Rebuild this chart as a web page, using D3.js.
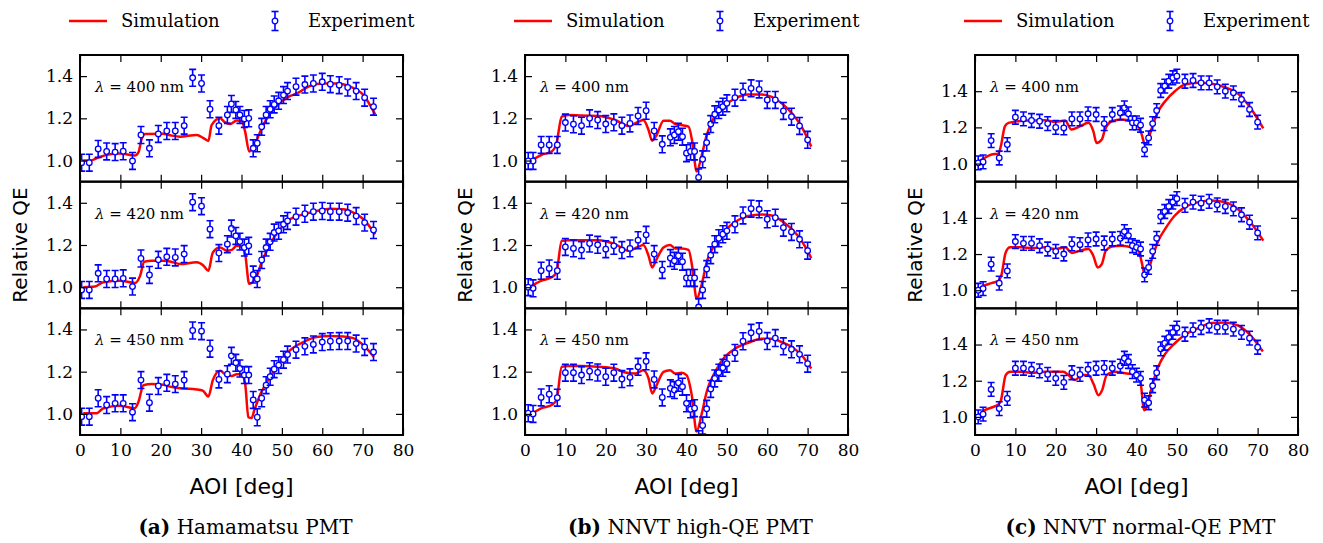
<!DOCTYPE html>
<html>
<head>
<meta charset="utf-8">
<script src="https://cdn.jsdelivr.net/npm/d3@7"></script>
<style>
  body { margin: 0; background: #fff; }
  text { fill: #000; }
</style>
</head>
<body>
<svg width="1323" height="543"></svg>
<script>
// ---- data ----
var wavelengths = [400, 420, 450];
var xTicks = [0, 10, 20, 30, 40, 50, 60, 70, 80];
var yTicks = [1.0, 1.2, 1.4];
var captions = [["(a)", " Hamamatsu PMT"], ["(b)", " NNVT high-QE PMT"], ["(c)", " NNVT normal-QE PMT"]];
var yDomains = [[0.9, 1.5], [0.9, 1.5], [0.9, 1.6]];
var expErr = [0.04, 0.04, 0.038];

// (a) Hamamatsu
var expXA = [0.4, 2.3, 4.5, 6.6, 8.7, 10.7, 13.0, 15.1, 17.2, 19.4, 21.5, 23.6, 25.8, 27.9, 30.1, 32.2, 34.4, 36.5, 37.5, 38.6, 39.6, 40.7, 41.8, 42.9, 43.9, 45.0, 46.1, 47.1, 48.1, 49.2, 50.4, 51.4, 53.5, 55.7, 57.8, 60.0, 62.0, 64.2, 66.3, 68.4, 70.5, 72.7];
var expA400 = [0.99, 0.99, 1.055, 1.043, 1.04, 1.044, 0.998, 1.121, 1.058, 1.126, 1.14, 1.14, 1.165, 1.392, 1.365, 1.243, 1.165, 1.216, 1.268, 1.24, 1.216, 1.197, 1.2, 1.058, 1.082, 1.16, 1.216, 1.243, 1.266, 1.283, 1.31, 1.329, 1.35, 1.36, 1.365, 1.373, 1.362, 1.357, 1.346, 1.329, 1.298, 1.255];
var expA420 = [0.987, 0.987, 1.066, 1.039, 1.039, 1.042, 1.003, 1.136, 1.058, 1.13, 1.144, 1.141, 1.157, 1.403, 1.384, 1.275, 1.162, 1.204, 1.278, 1.243, 1.216, 1.188, 1.196, 1.06, 1.039, 1.129, 1.188, 1.215, 1.259, 1.267, 1.298, 1.314, 1.334, 1.348, 1.358, 1.361, 1.358, 1.358, 1.353, 1.337, 1.306, 1.271];
var expA450 = [0.987, 0.987, 1.074, 1.042, 1.05, 1.05, 1.008, 1.16, 1.053, 1.132, 1.147, 1.141, 1.16, 1.395, 1.392, 1.309, 1.163, 1.188, 1.275, 1.242, 1.215, 1.184, 1.184, 1.066, 0.984, 1.074, 1.136, 1.176, 1.212, 1.231, 1.257, 1.281, 1.304, 1.32, 1.329, 1.34, 1.344, 1.345, 1.345, 1.333, 1.317, 1.293];
var simA400 = [[0.8,1.0],[2.5,1.0],[4.5,1.014],[6.6,1.027],[9.9,1.033],[13.6,1.024],[14.5,1.04],[15.3,1.105],[16.1,1.126],[20.6,1.127],[22.3,1.12],[24.8,1.113],[28.9,1.121],[30.6,1.106],[31.8,1.093],[32.6,1.168],[34.7,1.2],[35.7,1.184],[37.2,1.173],[38.8,1.19],[40.0,1.187],[40.9,1.137],[41.9,1.043],[42.5,1.05],[43.4,1.074],[44.2,1.117],[45.4,1.168],[47.1,1.224],[49.1,1.266],[51.6,1.302],[53.7,1.318],[57.0,1.354],[60.3,1.365],[63.6,1.365],[66.9,1.35],[70.2,1.31],[73.1,1.219]];
var simA420 = [[0.8,1.0],[3.7,1.003],[5.8,1.024],[9.9,1.031],[13.6,1.02],[14.9,1.055],[15.9,1.121],[17.8,1.125],[20.6,1.125],[22.3,1.122],[24.8,1.11],[28.9,1.118],[30.6,1.102],[31.8,1.078],[32.9,1.165],[34.7,1.188],[36.3,1.173],[37.6,1.177],[38.8,1.196],[40.0,1.193],[40.9,1.157],[41.9,1.016],[42.5,1.02],[43.8,1.055],[45.0,1.118],[47.1,1.204],[49.5,1.275],[52.0,1.322],[55.3,1.345],[58.6,1.361],[61.9,1.372],[65.2,1.369],[67.7,1.353],[70.2,1.322],[73.1,1.251]];
var simA450 = [[0.8,1.003],[4.1,1.003],[5.8,1.027],[9.9,1.039],[13.6,1.027],[14.5,1.058],[15.7,1.136],[17.8,1.141],[20.6,1.138],[22.3,1.129],[24.8,1.121],[28.9,1.116],[30.4,1.11],[31.8,1.082],[32.9,1.16],[34.7,1.204],[35.9,1.188],[37.6,1.179],[38.8,1.188],[40.0,1.188],[40.9,1.144],[41.7,0.984],[42.5,0.98],[43.2,1.019],[44.6,1.089],[47.1,1.176],[49.5,1.246],[52.0,1.301],[55.3,1.34],[58.6,1.364],[61.9,1.369],[65.2,1.367],[67.7,1.359],[70.2,1.325],[72.8,1.27]];

// (b) NNVT high-QE
var expXB = [0.8, 2, 4, 6, 8, 10, 12, 14, 16, 18, 20, 22, 24, 26, 28, 30, 32, 34, 36, 37, 38, 39, 40, 41, 42, 43, 44, 45, 46, 47, 48, 49, 50, 52, 54, 56, 58, 60, 62, 64, 66, 68, 70];
var expB400 = [0.998, 0.998, 1.074, 1.074, 1.074, 1.18, 1.172, 1.165, 1.2, 1.192, 1.173, 1.181, 1.165, 1.176, 1.211, 1.236, 1.14, 1.077, 1.11, 1.121, 1.137, 1.113, 1.035, 1.043, 1.043, 0.92, 1.006, 1.085, 1.173, 1.219, 1.239, 1.255, 1.271, 1.298, 1.326, 1.342, 1.337, 1.287, 1.287, 1.235, 1.208, 1.164, 1.098];
var expB420 = [1.0, 0.995, 1.078, 1.089, 1.078, 1.191, 1.184, 1.176, 1.207, 1.201, 1.18, 1.196, 1.176, 1.184, 1.223, 1.248, 1.157, 1.082, 1.138, 1.125, 1.149, 1.121, 1.044, 1.044, 1.044, 0.906, 0.987, 1.086, 1.152, 1.204, 1.232, 1.251, 1.267, 1.298, 1.34, 1.372, 1.369, 1.322, 1.329, 1.282, 1.262, 1.227, 1.173];
var expB450 = [1.003, 1.0, 1.078, 1.093, 1.077, 1.195, 1.195, 1.184, 1.202, 1.196, 1.176, 1.195, 1.165, 1.173, 1.223, 1.249, 1.163, 1.078, 1.121, 1.113, 1.147, 1.129, 1.05, 1.022, 1.027, 0.88, 0.945, 1.024, 1.118, 1.168, 1.195, 1.218, 1.238, 1.289, 1.344, 1.384, 1.391, 1.345, 1.359, 1.32, 1.306, 1.282, 1.238];
var simB400 = [[0.4,0.995],[2.5,1.011],[4.1,1.027],[6.6,1.043],[7.8,1.082],[9.1,1.208],[10.7,1.216],[14.0,1.213],[18.2,1.211],[22.3,1.192],[25.6,1.164],[28.1,1.184],[29.3,1.192],[30.6,1.145],[31.5,1.094],[32.6,1.121],[34.3,1.189],[35.9,1.189],[37.2,1.173],[38.8,1.168],[40.5,1.161],[41.5,1.082],[42.5,0.948],[43.8,1.027],[45.0,1.121],[46.7,1.2],[49.1,1.255],[52.0,1.294],[55.3,1.313],[58.6,1.313],[61.1,1.302],[63.6,1.271],[66.1,1.224],[68.5,1.161],[70.9,1.066]];
var simB420 = [[0.4,0.992],[2.5,1.016],[4.1,1.031],[6.6,1.047],[7.8,1.071],[9.1,1.22],[10.7,1.223],[14.0,1.223],[18.2,1.223],[22.3,1.204],[25.6,1.173],[27.7,1.188],[29.3,1.2],[30.6,1.149],[31.5,1.094],[32.6,1.133],[34.3,1.188],[35.9,1.2],[37.2,1.184],[38.8,1.184],[40.5,1.177],[41.5,1.086],[42.5,0.945],[43.8,1.016],[45.0,1.118],[47.1,1.204],[49.5,1.267],[52.0,1.309],[55.3,1.337],[58.6,1.345],[61.1,1.34],[63.6,1.314],[66.1,1.275],[68.5,1.22],[70.9,1.138]];
var simB450 = [[0.4,0.995],[2.5,1.011],[4.1,1.027],[6.6,1.042],[7.8,1.066],[9.1,1.223],[10.7,1.227],[14.0,1.227],[18.2,1.223],[22.3,1.215],[24.8,1.196],[27.3,1.191],[29.3,1.207],[30.6,1.168],[31.5,1.097],[32.6,1.136],[34.3,1.199],[35.9,1.207],[37.2,1.191],[38.8,1.195],[40.0,1.184],[41.3,1.089],[42.5,0.917],[43.8,1.003],[45.0,1.105],[47.1,1.199],[49.5,1.27],[52.0,1.309],[55.3,1.337],[58.6,1.356],[61.1,1.356],[63.6,1.34],[66.1,1.317],[68.5,1.278],[70.9,1.215]];

// (c) NNVT normal-QE
var expXC = [0.8, 2, 4, 6, 8, 10, 12, 14, 16, 18, 20, 22, 24, 26, 28, 30, 32, 34, 36, 37, 38, 39, 40, 41, 42, 43, 44, 45, 46, 47, 48, 49, 50, 52, 54, 56, 58, 60, 62, 64, 66, 68, 70];
var expC400 = [1.004, 1.009, 1.127, 1.031, 1.105, 1.256, 1.247, 1.238, 1.234, 1.221, 1.2, 1.197, 1.247, 1.247, 1.275, 1.271, 1.221, 1.271, 1.28, 1.308, 1.275, 1.225, 1.225, 1.212, 1.077, 1.142, 1.221, 1.293, 1.404, 1.428, 1.455, 1.474, 1.483, 1.455, 1.459, 1.446, 1.446, 1.424, 1.4, 1.391, 1.354, 1.299, 1.229];
var expC420 = [1.0, 1.009, 1.144, 1.039, 1.107, 1.269, 1.259, 1.259, 1.246, 1.228, 1.215, 1.2, 1.256, 1.252, 1.278, 1.283, 1.261, 1.283, 1.287, 1.324, 1.302, 1.246, 1.237, 1.228, 1.085, 1.126, 1.215, 1.287, 1.407, 1.435, 1.463, 1.487, 1.506, 1.469, 1.487, 1.481, 1.491, 1.472, 1.463, 1.45, 1.417, 1.376, 1.317];
var expC450 = [1.0, 1.015, 1.152, 1.046, 1.102, 1.269, 1.269, 1.263, 1.254, 1.235, 1.213, 1.191, 1.244, 1.235, 1.263, 1.269, 1.272, 1.269, 1.281, 1.324, 1.306, 1.25, 1.231, 1.213, 1.093, 1.078, 1.172, 1.244, 1.376, 1.407, 1.439, 1.467, 1.491, 1.457, 1.481, 1.494, 1.504, 1.496, 1.496, 1.485, 1.467, 1.435, 1.385];
var simC400 = [[0.4,1.004],[2.1,1.028],[4.1,1.05],[5.8,1.055],[6.4,1.096],[7.4,1.206],[8.3,1.225],[10.7,1.234],[14.0,1.238],[17.3,1.24],[19.8,1.23],[22.3,1.238],[23.9,1.188],[26.0,1.206],[28.1,1.225],[29.3,1.179],[30.1,1.114],[31.4,1.133],[32.2,1.188],[33.9,1.234],[36.3,1.243],[38.8,1.234],[40.5,1.206],[41.3,1.16],[42.1,1.105],[42.9,1.133],[43.8,1.197],[45.4,1.289],[47.1,1.345],[49.5,1.4],[52.0,1.437],[55.3,1.446],[58.6,1.441],[61.9,1.422],[65.2,1.385],[68.5,1.299],[71.4,1.194]];
var simC420 = [[0.4,1.0],[2.1,1.024],[4.1,1.039],[5.8,1.052],[6.6,1.089],[7.6,1.209],[8.7,1.237],[11.6,1.237],[14.0,1.233],[17.3,1.237],[19.8,1.228],[22.3,1.237],[24.0,1.206],[26.0,1.219],[28.1,1.228],[29.3,1.191],[30.4,1.126],[31.4,1.144],[32.4,1.219],[33.9,1.241],[36.3,1.246],[38.8,1.237],[40.5,1.219],[41.3,1.154],[42.1,1.08],[42.9,1.107],[43.8,1.172],[45.4,1.274],[47.1,1.339],[49.5,1.413],[52.0,1.459],[55.3,1.487],[58.6,1.496],[61.9,1.487],[65.2,1.446],[68.5,1.367],[71.4,1.274]];
var simC450 = [[0.4,0.991],[2.1,1.033],[4.1,1.052],[5.8,1.069],[6.4,1.089],[7.6,1.231],[8.7,1.25],[11.6,1.25],[14.0,1.244],[17.3,1.25],[21.9,1.25],[23.1,1.231],[24.8,1.204],[26.4,1.231],[28.1,1.231],[29.3,1.185],[30.6,1.12],[31.5,1.148],[32.6,1.231],[34.7,1.25],[37.2,1.241],[39.6,1.235],[40.9,1.204],[41.9,1.037],[42.8,1.074],[43.8,1.167],[45.4,1.278],[47.1,1.348],[49.5,1.407],[52.0,1.454],[55.3,1.491],[58.6,1.519],[61.9,1.522],[65.2,1.504],[68.5,1.444],[71.3,1.361]];

// ---- layout ----
var svg = d3.select("svg"),
    width = +svg.attr("width"),
    height = +svg.attr("height");

svg.append("rect").attr("width", width).attr("height", height).attr("fill", "#fff");

var panelLeft = [80, 525, 975],
    plotW = 323,
    plotTop = 55,
    plotBottom = 435,
    subH = (plotBottom - plotTop) / 3;

var RED = "#ff0000", BLUE = "#0000ff";
var serif = "'DejaVu Serif', serif",
    sans = "'DejaVu Sans', sans-serif";

var panels = [
  { expX: expXA, exp: [expA400, expA420, expA450], sim: [simA400, simA420, simA450] },
  { expX: expXB, exp: [expB400, expB420, expB450], sim: [simB400, simB420, simB450] },
  { expX: expXC, exp: [expC400, expC420, expC450], sim: [simC400, simC420, simC450] }
];

var x = d3.scaleLinear().domain([0, 80]).range([0, plotW]);

function errorBar(g, cx, cy, yLo, yHi) {
  g.append("line").attr("x1", cx).attr("x2", cx).attr("y1", yLo).attr("y2", yHi)
      .attr("stroke", BLUE).attr("stroke-width", 1.6);
  [yLo, yHi].forEach(function(yy) {
    g.append("line").attr("x1", cx - 3.5).attr("x2", cx + 3.5).attr("y1", yy).attr("y2", yy)
        .attr("stroke", BLUE).attr("stroke-width", 1.6);
  });
  g.append("circle").attr("cx", cx).attr("cy", cy).attr("r", 2.8)
      .attr("fill", "#fff").attr("stroke", BLUE).attr("stroke-width", 1.3);
}

panels.forEach(function(p, pi) {
  var g = svg.append("g").attr("transform", "translate(" + panelLeft[pi] + ",0)");

  // legend
  var lg = g.append("g").attr("transform", "translate(0,21)");
  lg.append("line").attr("x1", -11).attr("x2", 27).attr("y1", 0).attr("y2", 0)
      .attr("stroke", RED).attr("stroke-width", 2.5);
  lg.append("text").attr("x", 41).attr("y", 6).style("font-family", serif).style("font-size", "18px")
      .text("Simulation");
  errorBar(lg, 195, 0, -9.5, 9.5);
  lg.append("text").attr("x", 228).attr("y", 6).style("font-family", serif).style("font-size", "18px")
      .text("Experiment");

  wavelengths.forEach(function(wl, r) {
    var top = plotTop + r * subH, bottom = top + subH;
    var y = d3.scaleLinear().domain(yDomains[pi]).range([bottom, top]);
    var clipId = "clip" + pi + "_" + r;

    g.append("clipPath").attr("id", clipId)
      .append("rect").attr("x", 0).attr("y", top).attr("width", plotW).attr("height", subH);

    var plot = g.append("g").attr("clip-path", "url(#" + clipId + ")");

    var line = d3.line()
        .x(function(d) { return x(d[0]); })
        .y(function(d) { return y(d[1]); })
        .curve(d3.curveMonotoneX);

    plot.append("path").datum(p.sim[r])
        .attr("d", line)
        .attr("fill", "none")
        .attr("stroke", RED)
        .attr("stroke-width", 2.5)
        .attr("stroke-linejoin", "round");

    p.exp[r].forEach(function(v, i) {
      var e = expErr[pi];
      errorBar(plot, x(p.expX[i]), y(v), y(v - e), y(v + e));
    });

    // axes, ticks pointing inward on all sides
    var ax = g.append("g").attr("class", "axes");
    ax.append("g").call(d3.axisLeft(y).tickValues(yTicks).tickSize(-7)
        .tickPadding(7).tickFormat(d3.format(".1f")));
    ax.append("g").attr("transform", "translate(" + plotW + ",0)")
        .call(d3.axisRight(y).tickValues(yTicks).tickSize(-7).tickFormat(""));
    ax.append("g").attr("transform", "translate(0," + top + ")")
        .call(d3.axisTop(x).tickValues(xTicks).tickSize(-7).tickFormat(""));
    ax.append("g").attr("transform", "translate(0," + bottom + ")")
        .call(d3.axisBottom(x).tickValues(xTicks).tickSize(-7).tickPadding(9)
          .tickFormat(r === 2 ? d3.format("d") : ""));

    ax.selectAll(".domain").remove();
    ax.selectAll(".tick line").attr("stroke", "#000").attr("stroke-width", 1.2);
    ax.selectAll(".tick text").style("font-family", serif).style("font-size", "17px").attr("fill", "#000");

    ax.append("rect").attr("x", 0).attr("y", top).attr("width", plotW).attr("height", subH)
        .attr("fill", "none").attr("stroke", "#000").attr("stroke-width", 2);

    // wavelength label
    var lt = g.append("text").attr("x", 15).attr("y", top + 37)
        .style("font-family", serif).style("font-size", "15px");
    lt.append("tspan").style("font-style", "italic").text("λ");
    lt.append("tspan").text(" = " + wl + " nm");
  });

  // axis titles
  g.append("text")
      .attr("transform", "translate(-53," + ((plotTop + plotBottom) / 2) + ") rotate(-90)")
      .attr("text-anchor", "middle")
      .style("font-family", sans).style("font-size", "20px")
      .text("Relative QE");

  g.append("text")
      .attr("x", plotW / 2).attr("y", 494)
      .attr("text-anchor", "middle")
      .style("font-family", sans).style("font-size", "22px")
      .text("AOI [deg]");

  var cap = g.append("text")
      .attr("x", plotW / 2 + 4).attr("y", 534)
      .attr("text-anchor", "middle")
      .style("font-family", serif).style("font-size", "20px");
  cap.append("tspan").style("font-weight", "bold").text(captions[pi][0]);
  cap.append("tspan").text(captions[pi][1]);
});
</script>
</body>
</html>
